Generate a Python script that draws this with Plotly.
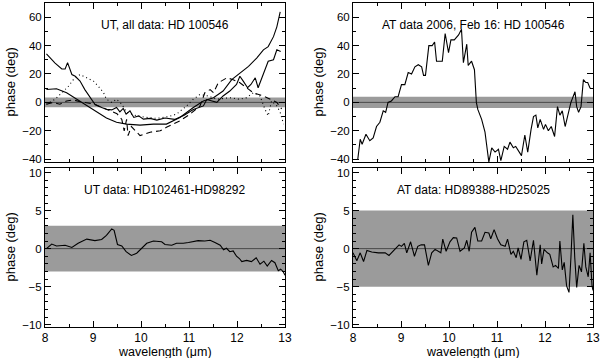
import plotly.graph_objects as go

# ---- data ----
# top-left: UT, all data, four curves
UT_A_X = [8.03, 8.21, 8.35, 8.42, 8.47, 8.56, 8.63, 8.73, 8.83, 8.94, 9.04, 9.18, 9.28, 9.39, 9.49,
          9.56, 9.63, 9.69, 9.77, 9.85, 9.95, 10.05, 10.19, 10.33, 10.5, 10.7, 10.9, 11.09, 11.3,
          11.37, 11.58, 11.71, 11.85, 11.99, 12.06, 12.13, 12.22, 12.29, 12.38, 12.44, 12.55,
          12.65, 12.76, 12.83, 12.91]
UT_A_Y = [34.2, 27.7, 23.5, 23.5, 28, 19.6, 18.4, 15, 9, 3.3, -1.3, -3.6, -4.8, -5.3, -3.6,
          -6.7, -4.3, -8.3, -6, -10.6, -9.5, -11.8, -11.3, -12.5, -11, -12, -9, -5, -2.5,
          2, 0, 4.5, 8, 12.6, 18.4, 15, 10.3, 12.6, 17.3, 10.3, 20.8,
          29, 30, 37, 35.8]

UT_B_X = [8.03, 8.24, 8.45, 8.66, 8.87, 9.08, 9.28, 9.49, 9.7, 9.98, 10.26, 10.53, 10.81, 11.09,
          11.3, 11.51, 11.71, 11.89, 12.06, 12.24, 12.41, 12.55, 12.65, 12.76, 12.83, 12.9]
UT_B_Y = [9.1, 9.6, 6.8, 2.2, -2.5, -7.1, -11, -14, -15.3, -16, -15.3, -15.3, -10.6, -3.6,
          1, 3.3, 8, 16, 20.8, 25.4, 31.2, 37, 39.3, 46.3, 53.2, 63.7]

UT_DASH_X = [8.03, 8.17, 8.31, 8.45, 8.59, 8.73, 9.0, 9.3, 9.5, 9.6, 9.65, 9.7, 9.73, 9.8, 9.98,
             10.19, 10.4, 10.53, 10.81, 11.02, 11.23, 11.33, 11.44, 11.51, 11.61, 11.79, 11.92,
             12.06, 12.2, 12.34, 12.55, 12.69, 12.83, 12.93]
UT_DASH_Y = [-1.3, 0, -1.3, 1, 1.7, 0.5, -1, -5, -8, -12, -20, -12, -23.4, -17, -23.4,
             -21, -20, -17.6, -13, -8.3, -2.5, 6.8, 9, 6.8, 13.8, 17.3, 16,
             13.8, 10.3, 6.8, 4.5, 2.2, 0, -4.6]

UT_DOT_X = [8.03, 8.21, 8.35, 8.49, 8.59, 8.73, 8.87, 9.01, 9.11, 9.22, 9.28, 9.39, 9.49, 9.6,
            9.7, 9.91, 10.12, 10.33, 10.57, 10.74, 10.95, 11.09, 11.23, 11.4, 11.58, 11.85,
            12.06, 12.2, 12.34, 12.48, 12.58, 12.65, 12.72, 12.83, 12.9, 12.97]
UT_DOT_Y = [-1.3, 2.2, 6.8, 11.4, 16, 19.6, 17.3, 15, 11.4, 6.8, 2.2, 0, 2.2, -1.3,
            -7, -9.5, -10.6, -11.3, -10, -8.3, -2.5, 2.2, 5.6, 4.5, 2.2, 3.3,
            2.2, 3.3, 6.8, 4.5, -4.6, -9.5, 1, -2.5, -7, -15.3]

# top-right: AT data 2006, Feb 16
AT_X = [8.1, 8.15, 8.19, 8.27, 8.35, 8.42, 8.49, 8.56, 8.63, 8.68, 8.73, 8.8, 8.875, 8.94, 9.01,
        9.08, 9.15, 9.22, 9.29, 9.36, 9.43, 9.47, 9.51, 9.58, 9.65, 9.7, 9.74, 9.86, 9.92, 9.99,
        10.04, 10.11, 10.2, 10.26, 10.3, 10.37, 10.4, 10.47, 10.53, 10.57, 10.6, 10.68, 10.75,
        10.83, 10.89, 10.96, 11.03, 11.08, 11.15, 11.22, 11.27, 11.34, 11.39, 11.44, 11.51,
        11.58, 11.64, 11.71, 11.76, 11.81, 11.85, 11.9, 11.97, 12.01, 12.07, 12.13, 12.2, 12.26,
        12.31, 12.36, 12.42, 12.49, 12.54, 12.625, 12.66, 12.7, 12.75, 12.8, 12.85, 12.89, 12.94]
AT_Y = [-40, -26, -29.5, -22.5, -27, -25, -17, -14, -6, -7, 0, 1, 4, 4, 12.5,
        12.5, 21, 20, 25, 26.5, 25, 19, 19, 40, 40, 42.5, 29, 29, 48.5, 35,
        44, 44, 47.5, 51.5, 28, 41, 26, 29, 23, 0, -5, -12, -21,
        -42, -32, -35, -33, -41, -31, -33, -28, -32, -31, -34, -37.5,
        -23, -35, -19, -10, -9, -18, -12, -19, -15.5, -20, -17, -24, -3,
        -9, -6, -17, -7, 0, 7.5, -3, -7, -3, 16, 14, 14, 10]

# bottom-left: UT data, HD102461-HD98292
UTC_X = [8.03, 8.14, 8.24, 8.42, 8.56, 8.69, 8.87, 9.04, 9.18, 9.28, 9.39, 9.44, 9.51, 9.6, 9.69,
         9.8, 9.91, 10.01, 10.12, 10.26, 10.43, 10.5, 10.64, 10.74, 10.88, 10.99, 11.09, 11.19,
         11.33, 11.44, 11.54, 11.65, 11.72, 11.78, 11.85, 11.92, 11.99, 12.05, 12.1, 12.2, 12.3,
         12.4, 12.48, 12.56, 12.63, 12.72, 12.79, 12.86, 12.91, 12.96, 13.0]
UTC_Y = [0, 0.6, 0.35, 0.45, 0.15, 0.7, 1.25, 1.05, 1.2, 1.75, 2.6, 2.4, 0.55, 0.35, -0.4,
         -0.9, -0.6, 0.05, 0.7, 1.0, 0.9, 0.55, 0.45, 0.7, 0.7, 0.8, 0.9, 1.05,
         1.0, 1.1, 0.8, 0.45, -0.15, 0.05, -0.4, -0.3, -1.0, -1.3, -1.7, -1.55, -1.7,
         -1.2, -2.05, -1.65, -2.3, -1.55, -1.85, -2.9, -2.7, -3.0, -3.5]

# bottom-right: AT data, HD89388-HD25025
ATC_X = [8.0, 8.08, 8.15, 8.22, 8.29, 8.39, 8.53, 8.67, 8.75, 8.84, 8.91, 8.96, 9.01, 9.07, 9.12,
         9.2, 9.28, 9.35, 9.42, 9.49, 9.57, 9.64, 9.71, 9.78, 9.83, 9.87, 9.94, 10.02, 10.09,
         10.16, 10.23, 10.32, 10.37, 10.42, 10.47, 10.54, 10.6, 10.68, 10.75, 10.83, 10.87,
         10.94, 11.01, 11.08, 11.17, 11.22, 11.29, 11.34, 11.4, 11.44, 11.5, 11.56, 11.62,
         11.69, 11.76, 11.83, 11.9, 11.93, 11.98, 12.05, 12.1, 12.17, 12.22, 12.28, 12.31,
         12.36, 12.4, 12.45, 12.5, 12.54, 12.58, 12.62, 12.66, 12.71, 12.76, 12.81, 12.85,
         12.9, 12.94, 12.98, 13.0]
ATC_Y = [-0.55, -1.6, -0.55, -1.7, -0.25, -0.45, -0.55, -0.55, -0.9, -0.35, 0.1, 0.5, 0.3, 0.7, -0.55,
         0.9, -1.0, 0.3, 0.5, 0.5, -2.2, -0.55, -0.1, -0.35, -0.55, 1.25, -0.35, 0.9, 1.45,
         1.4, -0.35, 0.1, 1.1, -0.35, 2.15, 2.8, 1.0, 1.0, 2.15, 2.05, 1.3,
         2.5, 1.3, 0.5, 0.3, 1.25, -0.75, -0.35, -1.2, 0.1, -1.4, 0.9, 1.1,
         -1.6, 1.1, -3.5, 0.5, -2.0, -0.1, -0.55, -0.75, -2.4, -2.2, -2.6, 1.0,
         -2.8, -1.8, -4.9, -5.75, -1.2, 4.45, -1.2, -5.1, -2.2, -3.05, 0.7, -2.4,
         -3.7, -0.55, -4.9, -5.5]

BANDS = [3.5, 4, 3, 5]          # half-width of the grey band per panel
LABELS = ["UT, all data: HD 100546", "AT data 2006, Feb 16: HD 100546",
          "UT data: HD102461-HD98292", "AT data: HD89388-HD25025"]

W, H = 600, 358
FONT = "Liberation Sans, Arial, sans-serif"
BLACK = "#000000"
GREY = "#9b9b9b"

# reference pixel boxes of the four frames (x0, x1, ytop, ybottom)
boxes = [(45, 285, 3, 162), (353, 593, 3, 162), (45, 285, 168, 327), (353, 593, 168, 327)]
yranges = [[-42, 70], [-42, 70], [-10.3, 10.6], [-10.3, 10.6]]


def px(v):
    return v / W


def py(v):
    return 1 - v / H


fig = go.Figure()
line = dict(color=BLACK, width=1.1)

fig.add_trace(go.Scatter(x=UT_A_X, y=UT_A_Y, mode="lines", line=line, xaxis="x", yaxis="y"))
fig.add_trace(go.Scatter(x=UT_B_X, y=UT_B_Y, mode="lines", line=line, xaxis="x", yaxis="y"))
fig.add_trace(go.Scatter(x=UT_DASH_X, y=UT_DASH_Y, mode="lines",
                         line=dict(color=BLACK, width=1.1, dash="6px,4px"), xaxis="x", yaxis="y"))
fig.add_trace(go.Scatter(x=UT_DOT_X, y=UT_DOT_Y, mode="lines",
                         line=dict(color=BLACK, width=1.1, dash="1px,3px"), xaxis="x", yaxis="y"))
fig.add_trace(go.Scatter(x=AT_X, y=AT_Y, mode="lines", line=line, xaxis="x2", yaxis="y2"))
fig.add_trace(go.Scatter(x=UTC_X, y=UTC_Y, mode="lines", line=line, xaxis="x3", yaxis="y3"))
fig.add_trace(go.Scatter(x=ATC_X, y=ATC_Y, mode="lines", line=line, xaxis="x4", yaxis="y4"))

shapes, annotations = [], []
layout = {}
for i, (x0, x1, yt, yb) in enumerate(boxes):
    n = "" if i == 0 else str(i + 1)
    bottom = i >= 2
    top_panel = i < 2
    layout["xaxis" + n] = dict(
        domain=[px(x0), px(x1)], range=[8, 13], anchor="y" + n,
        showline=True, linecolor=BLACK, linewidth=1, mirror="allticks",
        ticks="inside", ticklen=6, tickcolor=BLACK, dtick=1, tick0=8,
        minor=dict(ticks="inside", ticklen=3, dtick=0.5, tickcolor=BLACK),
        showgrid=False, zeroline=False, showticklabels=bottom,
        tickfont=dict(family=FONT, size=12, color=BLACK),
        ticklabeloverflow="allow",
        automargin=False,
    )
    layout["yaxis" + n] = dict(
        domain=[py(yb), py(yt)], range=yranges[i], anchor="x" + n,
        showline=True, linecolor=BLACK, linewidth=1, mirror="allticks",
        ticks="inside", ticklen=6, tickcolor=BLACK,
        dtick=20 if top_panel else 5,
        minor=dict(ticks="inside", ticklen=3, dtick=10 if top_panel else 1, tickcolor=BLACK),
        showgrid=False, zeroline=False,
        tickfont=dict(family=FONT, size=11.5, color=BLACK),
        ticklabeloverflow="allow",
        automargin=False,
    )
    xr, yr = "x" + n, "y" + n
    shapes.append(dict(type="rect", xref=xr, yref=yr, x0=8, x1=13,
                       y0=-BANDS[i], y1=BANDS[i], fillcolor=GREY, line=dict(width=0),
                       layer="below"))
    shapes.append(dict(type="line", xref=xr, yref=yr, x0=8, x1=13, y0=0, y1=0,
                       line=dict(color="#333333", width=0.8), layer="below"))
    annotations.append(dict(text=LABELS[i], xref="paper", yref="paper",
                            x=px((x0 + x1) / 2), y=py(yt + 22),
                            xanchor="center", yanchor="middle",
                            showarrow=False, font=dict(family=FONT, size=12, color=BLACK)))
    annotations.append(dict(text="phase (deg)", xref="paper", yref="paper",
                            x=px(x0 - 35), y=py((yt + yb) / 2), textangle=-90,
                            xanchor="center", yanchor="middle",
                            showarrow=False, font=dict(family=FONT, size=13, color=BLACK)))
    if bottom:
        annotations.append(dict(text="wavelength (\u03bcm)", xref="paper", yref="paper",
                                x=px((x0 + x1) / 2), y=py(352),
                                xanchor="center", yanchor="middle",
                                showarrow=False, font=dict(family=FONT, size=12.5, color=BLACK)))

fig.update_layout(
    **layout,
    width=W, height=H,
    margin=dict(l=0, r=0, t=0, b=0),
    paper_bgcolor="white", plot_bgcolor="white",
    showlegend=False,
    shapes=shapes, annotations=annotations,
)

# the page body gets a default 8px margin; drop it so the figure sits at 0,0
fig.write_html("out.html", config={"displayModeBar": False},
               post_script="document.body.style.margin='0';document.body.style.overflow='hidden';")
